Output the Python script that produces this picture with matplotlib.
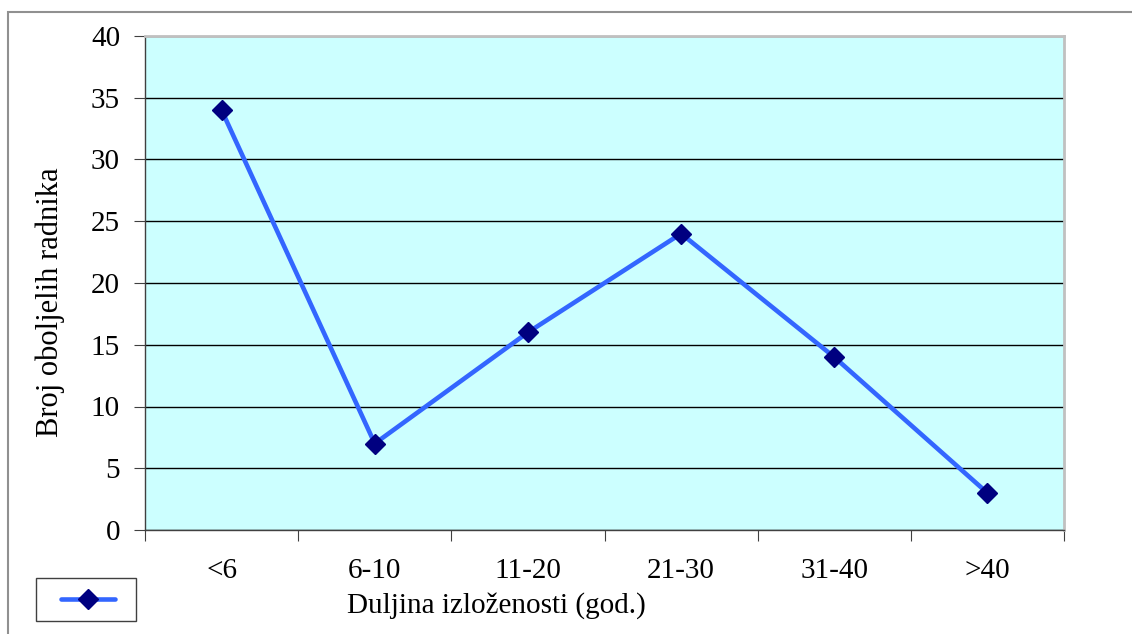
import matplotlib
matplotlib.use("Agg")
import matplotlib.pyplot as plt
from matplotlib.patches import Rectangle
from matplotlib.lines import Line2D
import numpy as np

categories = ["<6", "6-10", "11-20", "21-30", "31-40", ">40"]
values = [34, 7, 16, 24, 14, 3]
yticks = [0, 5, 10, 15, 20, 25, 30, 35, 40]

plt.rcParams['font.family'] = ['Liberation Serif', 'DejaVu Serif']

W, H = 1132, 634
fig = plt.figure(figsize=(W / 100, H / 100), dpi=100)

# outer chart frame
fig.patches.append(Rectangle((8 / W, -0.1), 1.2, 1 - 12 / H + 0.1, transform=fig.transFigure,
                             fill=False, edgecolor="#909090", linewidth=1.5))

ax = fig.add_axes([145 / W, 1 - 530 / H, (1064 - 145) / W, (530 - 36) / H])
ax.set_facecolor("#CCFFFF")

x = np.arange(len(categories))
ax.plot(x, values, color="#3366FF", linewidth=3.3, marker="D", markersize=10,
        markerfacecolor="#000080", markeredgecolor="#000080", zorder=3)

ax.set_xlim(-0.5, len(categories) - 0.5)
ax.set_ylim(0, 40)
ax.set_yticks(yticks)
ax.set_yticklabels([str(t) for t in yticks], fontsize=21)
ax.yaxis.grid(True, color="black", linewidth=1)
ax.set_axisbelow(True)

# category labels centred, ticks on boundaries
ax.set_xticks(np.arange(-0.5, len(categories), 1))
ax.set_xticklabels([])
ax.set_xticks(x, minor=True)
ax.set_xticklabels(categories, minor=True, fontsize=21)
ax.tick_params(axis="x", which="minor", length=0, pad=20)
ax.tick_params(axis="x", which="major", length=8, direction="out", color="#404040")
ax.tick_params(axis="y", length=8, direction="out", color="#404040", pad=10)

for s in ["top", "right"]:
    ax.spines[s].set_color("#C0C0C0")
    ax.spines[s].set_linewidth(2)
for s in ["left", "bottom"]:
    ax.spines[s].set_color("#404040")
    ax.spines[s].set_linewidth(1)

fig.text(50 / W, 1 - 302 / H, "Broj oboljelih radnika", rotation=90,
         ha="center", va="center", fontsize=22)
fig.text(496 / W, 1 - 606 / H, "Duljina izloženosti (god.)",
         ha="center", va="center", fontsize=21)

# legend box without text
fig.patches.append(Rectangle((36 / W, 1 - 621 / H), 100 / W, 43 / H, transform=fig.transFigure,
                             fill=False, edgecolor="#404040", linewidth=1))
fig.lines.append(Line2D([61 / W, 115 / W], [1 - 599 / H, 1 - 599 / H], transform=fig.transFigure,
                        color="#3366FF", linewidth=3.3, solid_capstyle="round"))
fig.lines.append(Line2D([88 / W], [1 - 599 / H], transform=fig.transFigure, marker="D",
                        markersize=10, color="#000080", linestyle="none"))

fig.savefig("out.png", dpi=100)
